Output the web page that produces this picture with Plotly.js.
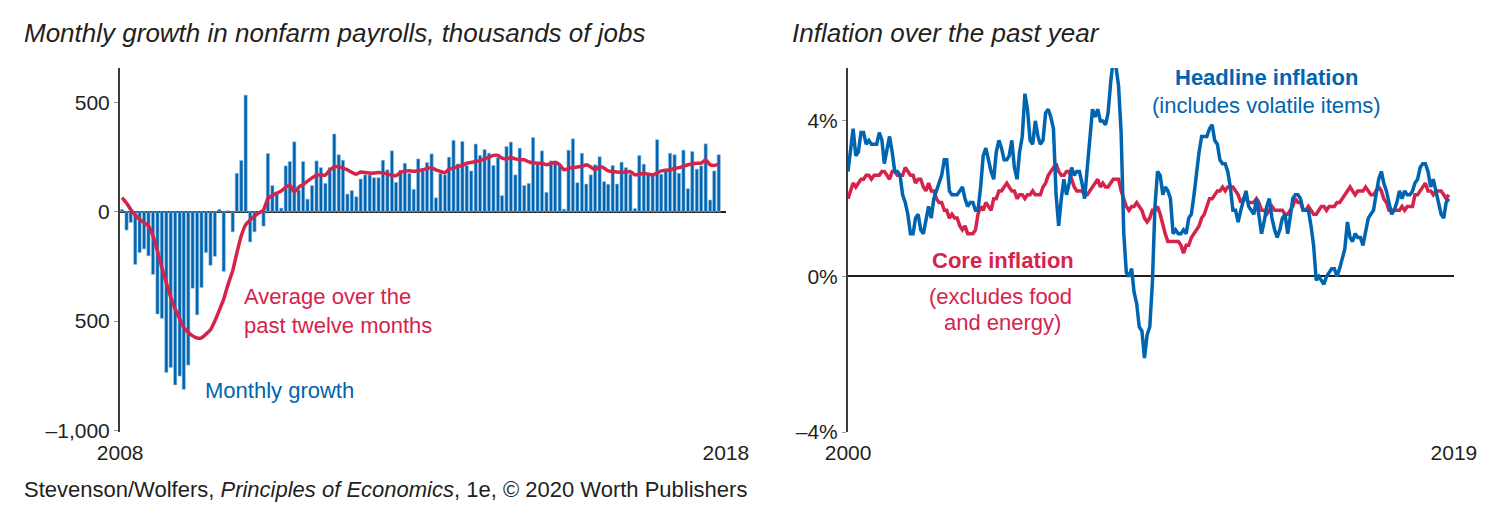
<!DOCTYPE html>
<html>
<head>
<meta charset="utf-8">
<script src="https://cdn.plot.ly/plotly-3.0.1.min.js"></script>
<style>html,body{margin:0;padding:0;background:#fff}#chart{width:1503px;height:524px}</style>
</head>
<body>
<div id="chart"></div>
<script>
// ---------- Left panel: monthly change in nonfarm payrolls (thousands), Jan 2008 - Apr 2019 ----------
const payrollStart = [2008, 1];
const payrollMonthly = [
  11, -84, -49, -241, -187, -170, -202, -287, -468, -488, -736, -713,
  -793, -752, -813, -702, -350, -472, -347, -187, -245, -204, 11, -273,
  5, -92, 176, 235, 534, -138, -92, -10, -66, 267, 120, 90,
  17, 210, 230, 320, 100, 230, 58, 120, 233, 202, 130, 202,
  356, 261, 236, 81, 97, 69, 150, 169, 169, 156, 156, 236,
  192, 279, 135, 190, 222, 176, 103, 242, 187, 225, 265, 64,
  176, 169, 250, 327, 219, 322, 212, 187, 310, 258, 285, 268,
  212, 248, 74, 299, 319, 169, 291, 120, 130, 340, 222, 279,
  89, 233, 230, 218, 12, 282, 334, 133, 268, 127, 169, 215,
  252, 138, 126, 212, 127, 227, 202, 172, 15, 258, 218, 172,
  166, 330, 172, 196, 268, 261, 176, 282, 106, 276, 195, 210,
  311, 54, 187, 261
];
const payrollAvg12 = [
  65, 40, 10, -15, -35, -50, -65, -110, -180, -255, -325, -390,
  -445, -490, -530, -552, -568, -578, -577, -560, -540, -500, -450, -400,
  -330, -270, -190, -110, -60, -38, -20, -5, 8, 60, 75, 85,
  95, 112, 122, 90, 112, 125, 140, 155, 168, 168, 168, 190,
  205, 207, 200, 192, 180, 172, 182, 180, 177, 177, 180, 178,
  172, 168, 165, 180, 186, 188, 185, 188, 192, 198, 202, 192,
  185, 178, 195, 200, 207, 212, 222, 226, 230, 234, 242, 250,
  258, 258, 245, 242, 248, 242, 238, 238, 228, 224, 222, 222,
  215, 220, 227, 215, 192, 199, 202, 205, 207, 215, 205, 192,
  207, 200, 187, 184, 182, 181, 182, 184, 169, 172, 176, 172,
  169, 178, 187, 190, 192, 199, 202, 208, 215, 220, 222, 222,
  238, 215, 212, 218
];
const payrollYTicks = [-1000, -500, 0, 500];
const payrollYTickText = ["\u20131,000", "500", "0", "500"];
const payrollXTickText = ["2008", "2018"];

// ---------- Right panel: 12-month inflation (%), Jan 2000 - Apr 2019 ----------
const inflStart = [2000, 1];
const headline = [
  2.7, 3.2, 3.8, 3.1, 3.2, 3.7, 3.7, 3.4, 3.5, 3.4, 3.4, 3.4,
  3.7, 3.5, 2.9, 3.3, 3.6, 3.2, 2.7, 2.7, 2.6, 2.1, 1.9, 1.6,
  1.1, 1.1, 1.5, 1.6, 1.2, 1.1, 1.5, 1.8, 1.5, 2.0, 2.2, 2.4,
  2.6, 3.0, 3.0, 2.2, 2.1, 2.1, 2.1, 2.2, 2.3, 2.0, 1.8, 1.9,
  1.9, 1.7, 1.7, 2.3, 3.1, 3.3, 3.0, 2.7, 2.5, 3.2, 3.5, 3.3,
  3.0, 3.0, 3.1, 3.5, 2.8, 2.5, 3.2, 3.6, 4.7, 4.3, 3.5, 3.4,
  4.0, 3.6, 3.4, 3.5, 4.2, 4.3, 4.1, 3.8, 2.1, 1.3, 2.0, 2.5,
  2.1, 2.4, 2.8, 2.6, 2.7, 2.7, 2.4, 2.0, 2.8, 3.5, 4.3, 4.1,
  4.3, 4.0, 4.0, 3.9, 4.2, 5.0, 5.6, 5.4, 4.9, 3.7, 1.1, 0.1,
  0.0, 0.2, -0.4, -0.7, -1.3, -1.4, -2.1, -1.5, -1.3, -0.2, 1.8, 2.7,
  2.6, 2.1, 2.3, 2.2, 2.0, 1.1, 1.2, 1.1, 1.1, 1.2, 1.1, 1.5,
  1.6, 2.1, 2.7, 3.2, 3.6, 3.6, 3.6, 3.8, 3.9, 3.5, 3.4, 3.0,
  2.9, 2.9, 2.7, 2.3, 1.7, 1.7, 1.4, 1.7, 2.0, 2.2, 1.8, 1.7,
  1.6, 2.0, 1.5, 1.1, 1.4, 1.8, 2.0, 1.5, 1.2, 1.0, 1.2, 1.5,
  1.6, 1.1, 1.5, 2.0, 2.1, 2.1, 2.0, 1.7, 1.7, 1.7, 1.3, 0.8,
  -0.1, 0.0, -0.1, -0.2, 0.0, 0.1, 0.2, 0.2, 0.0, 0.2, 0.5, 0.7,
  1.4, 1.0, 0.9, 1.1, 1.0, 1.0, 0.8, 1.1, 1.5, 1.6, 1.7, 2.1,
  2.5, 2.7, 2.4, 2.2, 1.9, 1.6, 1.7, 1.9, 2.2, 2.0, 2.2, 2.1,
  2.1, 2.2, 2.4, 2.5, 2.8, 2.9, 2.9, 2.7, 2.3, 2.5, 2.2, 1.9,
  1.6, 1.5, 1.9, 2.0
];
const core = [
  2.0, 2.2, 2.4, 2.3, 2.4, 2.5, 2.5, 2.6, 2.6, 2.5, 2.6, 2.6,
  2.6, 2.7, 2.7, 2.6, 2.5, 2.7, 2.7, 2.6, 2.6, 2.6, 2.8, 2.7,
  2.6, 2.6, 2.4, 2.5, 2.5, 2.3, 2.2, 2.4, 2.2, 2.2, 2.0, 1.9,
  1.9, 1.7, 1.7, 1.5, 1.6, 1.5, 1.5, 1.3, 1.2, 1.3, 1.1, 1.1,
  1.1, 1.2, 1.6, 1.8, 1.7, 1.9, 1.8, 1.7, 2.0, 2.0, 2.2, 2.2,
  2.3, 2.4, 2.3, 2.2, 2.2, 2.0, 2.1, 2.1, 2.0, 2.1, 2.1, 2.2,
  2.1, 2.1, 2.1, 2.3, 2.4, 2.6, 2.7, 2.8, 2.9, 2.7, 2.6, 2.6,
  2.7, 2.7, 2.5, 2.3, 2.2, 2.2, 2.2, 2.1, 2.1, 2.2, 2.3, 2.4,
  2.5, 2.3, 2.4, 2.3, 2.3, 2.4, 2.5, 2.5, 2.5, 2.2, 2.0, 1.8,
  1.7, 1.8, 1.8, 1.9, 1.8, 1.7, 1.5, 1.4, 1.5, 1.7, 1.7, 1.8,
  1.6, 1.3, 1.1, 0.9, 0.9, 0.9, 0.9, 0.9, 0.8, 0.6, 0.8, 0.8,
  1.0, 1.1, 1.2, 1.3, 1.5, 1.6, 1.8, 2.0, 2.0, 2.1, 2.2, 2.2,
  2.3, 2.2, 2.3, 2.3, 2.3, 2.2, 2.1, 1.9, 2.0, 2.0, 1.9, 1.9,
  1.9, 2.0, 1.9, 1.7, 1.7, 1.6, 1.7, 1.8, 1.7, 1.7, 1.7, 1.7,
  1.6, 1.6, 1.7, 1.8, 2.0, 1.9, 1.9, 1.7, 1.7, 1.8, 1.7, 1.6,
  1.6, 1.7, 1.8, 1.8, 1.7, 1.8, 1.8, 1.8, 1.9, 1.9, 2.0, 2.1,
  2.2, 2.3, 2.2, 2.1, 2.2, 2.2, 2.2, 2.3, 2.2, 2.1, 2.1, 2.2,
  2.3, 2.2, 2.0, 1.9, 1.7, 1.7, 1.7, 1.7, 1.7, 1.8, 1.7, 1.8,
  1.8, 1.8, 2.1, 2.1, 2.2, 2.3, 2.4, 2.2, 2.2, 2.1, 2.2, 2.2,
  2.2, 2.1, 2.0, 2.1
];
const inflYTicks = [-4, 0, 4];
const inflYTickText = ["\u20134%", "0%", "4%"];
const inflXTickText = ["2000", "2019"];

// ---------- helpers ----------
function monthDates(start, n) {
  const out = [];
  for (let i = 0; i < n; i++) {
    const m = start[1] - 1 + i;
    const y = start[0] + Math.floor(m / 12);
    const mm = (m % 12) + 1;
    out.push(y + "-" + (mm < 10 ? "0" : "") + mm + "-01");
  }
  return out;
}
const payDates = monthDates(payrollStart, payrollMonthly.length);
const inflDates = monthDates(inflStart, headline.length);

const BLUE = "#0065b1";
const RED = "#d6234b";
const FONT = "Liberation Sans, Arial, sans-serif";

const payRange = ["2007-12-18", "2019-05-21"];
const inflRange = ["2000-01-01", "2019-06-01"];

const traces = [
  {
    type: "bar", x: payDates, y: payrollMonthly, xaxis: "x", yaxis: "y",
    marker: { color: BLUE, line: { color: "#9cc4e8", width: 0.6 } },
    hoverinfo: "x+y", showlegend: false
  },
  {
    type: "scatter", mode: "lines", x: payDates, y: payrollAvg12, xaxis: "x", yaxis: "y",
    line: { color: RED, width: 3.5, shape: "spline", smoothing: 0.4 }, showlegend: false
  },
  {
    type: "scatter", mode: "lines", x: inflDates, y: core, xaxis: "x2", yaxis: "y2",
    line: { color: RED, width: 3.5 }, showlegend: false
  },
  {
    type: "scatter", mode: "lines", x: inflDates, y: headline, xaxis: "x2", yaxis: "y2",
    line: { color: BLUE, width: 3.5 }, showlegend: false
  }
];

const W = 1503, H = 524;
const px = v => v / W;
const py = v => (H - v) / H;

const yDom = [py(432), py(68)];

function ann(text, x, y, opts) {
  return Object.assign({
    text: text, xref: "paper", yref: "paper", x: px(x), y: py(y),
    showarrow: false, xanchor: "left", yanchor: "middle",
    font: { family: FONT, size: 22, color: "#231f20" }
  }, opts || {});
}

const layout = {
  width: W, height: H,
  margin: { l: 0, r: 0, t: 0, b: 0 },
  paper_bgcolor: "#ffffff", plot_bgcolor: "#ffffff",
  bargap: 0.2,
  showlegend: false,
  font: { family: FONT, size: 21, color: "#231f20" },
  xaxis: {
    domain: [px(120), px(726)], type: "date", range: payRange,
    showgrid: false, zeroline: false, showline: false,
    tickmode: "array", tickvals: ["2007-12-19", "2019-05-20"], ticktext: payrollXTickText,
    ticks: "", ticklabelstandoff: 6,
    tickfont: { family: FONT, size: 21, color: "#231f20" }, anchor: "y"
  },
  yaxis: {
    domain: yDom, range: [-1008, 658],
    showgrid: false, zeroline: true, zerolinecolor: "#231f20", zerolinewidth: 2,
    showline: true, linecolor: "#3a3a3a", linewidth: 2,
    tickmode: "array", tickvals: payrollYTicks, ticktext: payrollYTickText,
    ticks: "outside", ticklen: 4, tickcolor: "#999", tickwidth: 1,
    tickfont: { family: FONT, size: 21, color: "#231f20" }, anchor: "x",
    layer: "above traces"
  },
  xaxis2: {
    domain: [px(848), px(1454)], type: "date", range: inflRange,
    showgrid: false, zeroline: false, showline: false,
    tickmode: "array", tickvals: ["2000-01-02", "2019-05-31"], ticktext: inflXTickText,
    ticks: "", ticklabelstandoff: 6,
    tickfont: { family: FONT, size: 21, color: "#231f20" }, anchor: "y2"
  },
  yaxis2: {
    domain: yDom, range: [-4, 5.36],
    showgrid: false, zeroline: true, zerolinecolor: "#231f20", zerolinewidth: 2,
    showline: true, linecolor: "#3a3a3a", linewidth: 2,
    tickmode: "array", tickvals: inflYTicks, ticktext: inflYTickText,
    ticks: "outside", ticklen: 4, tickcolor: "#999", tickwidth: 1,
    tickfont: { family: FONT, size: 21, color: "#231f20" }, anchor: "x2",
    layer: "above traces"
  },
  annotations: [
    ann("<i>Monthly growth in nonfarm payrolls, thousands of jobs</i>", 22, 33, { font: { family: FONT, size: 26, color: "#231f20" } }),
    ann("<i>Inflation over the past year</i>", 790, 33, { font: { family: FONT, size: 26, color: "#231f20" } }),
    ann("Stevenson/Wolfers, <i>Principles of Economics</i>, 1e, \u00a9 2020 Worth Publishers", 22, 489, { font: { family: FONT, size: 22, color: "#231f20" } }),
    ann("Average over the", 242, 297, { font: { family: FONT, size: 22, color: RED } }),
    ann("past twelve months", 242, 325, { font: { family: FONT, size: 22, color: RED } }),
    ann("Monthly growth", 203, 390, { font: { family: FONT, size: 22, color: BLUE } }),
    ann("<b>Headline inflation</b>", 1266, 77, { xanchor: "center", font: { family: FONT, size: 22, color: BLUE } }),
    ann("(includes volatile items)", 1266, 106, { xanchor: "center", font: { family: FONT, size: 22, color: BLUE } }),
    ann("<b>Core inflation</b>", 1003, 260, { xanchor: "center", font: { family: FONT, size: 22, color: RED } }),
    ann("(excludes food", 1001, 297, { xanchor: "center", font: { family: FONT, size: 22, color: RED } }),
    ann("and energy)", 1002, 322, { xanchor: "center", font: { family: FONT, size: 22, color: RED } })
  ]
};

Plotly.newPlot("chart", traces, layout, { displayModeBar: false, staticPlot: true });
</script>
</body>
</html>
